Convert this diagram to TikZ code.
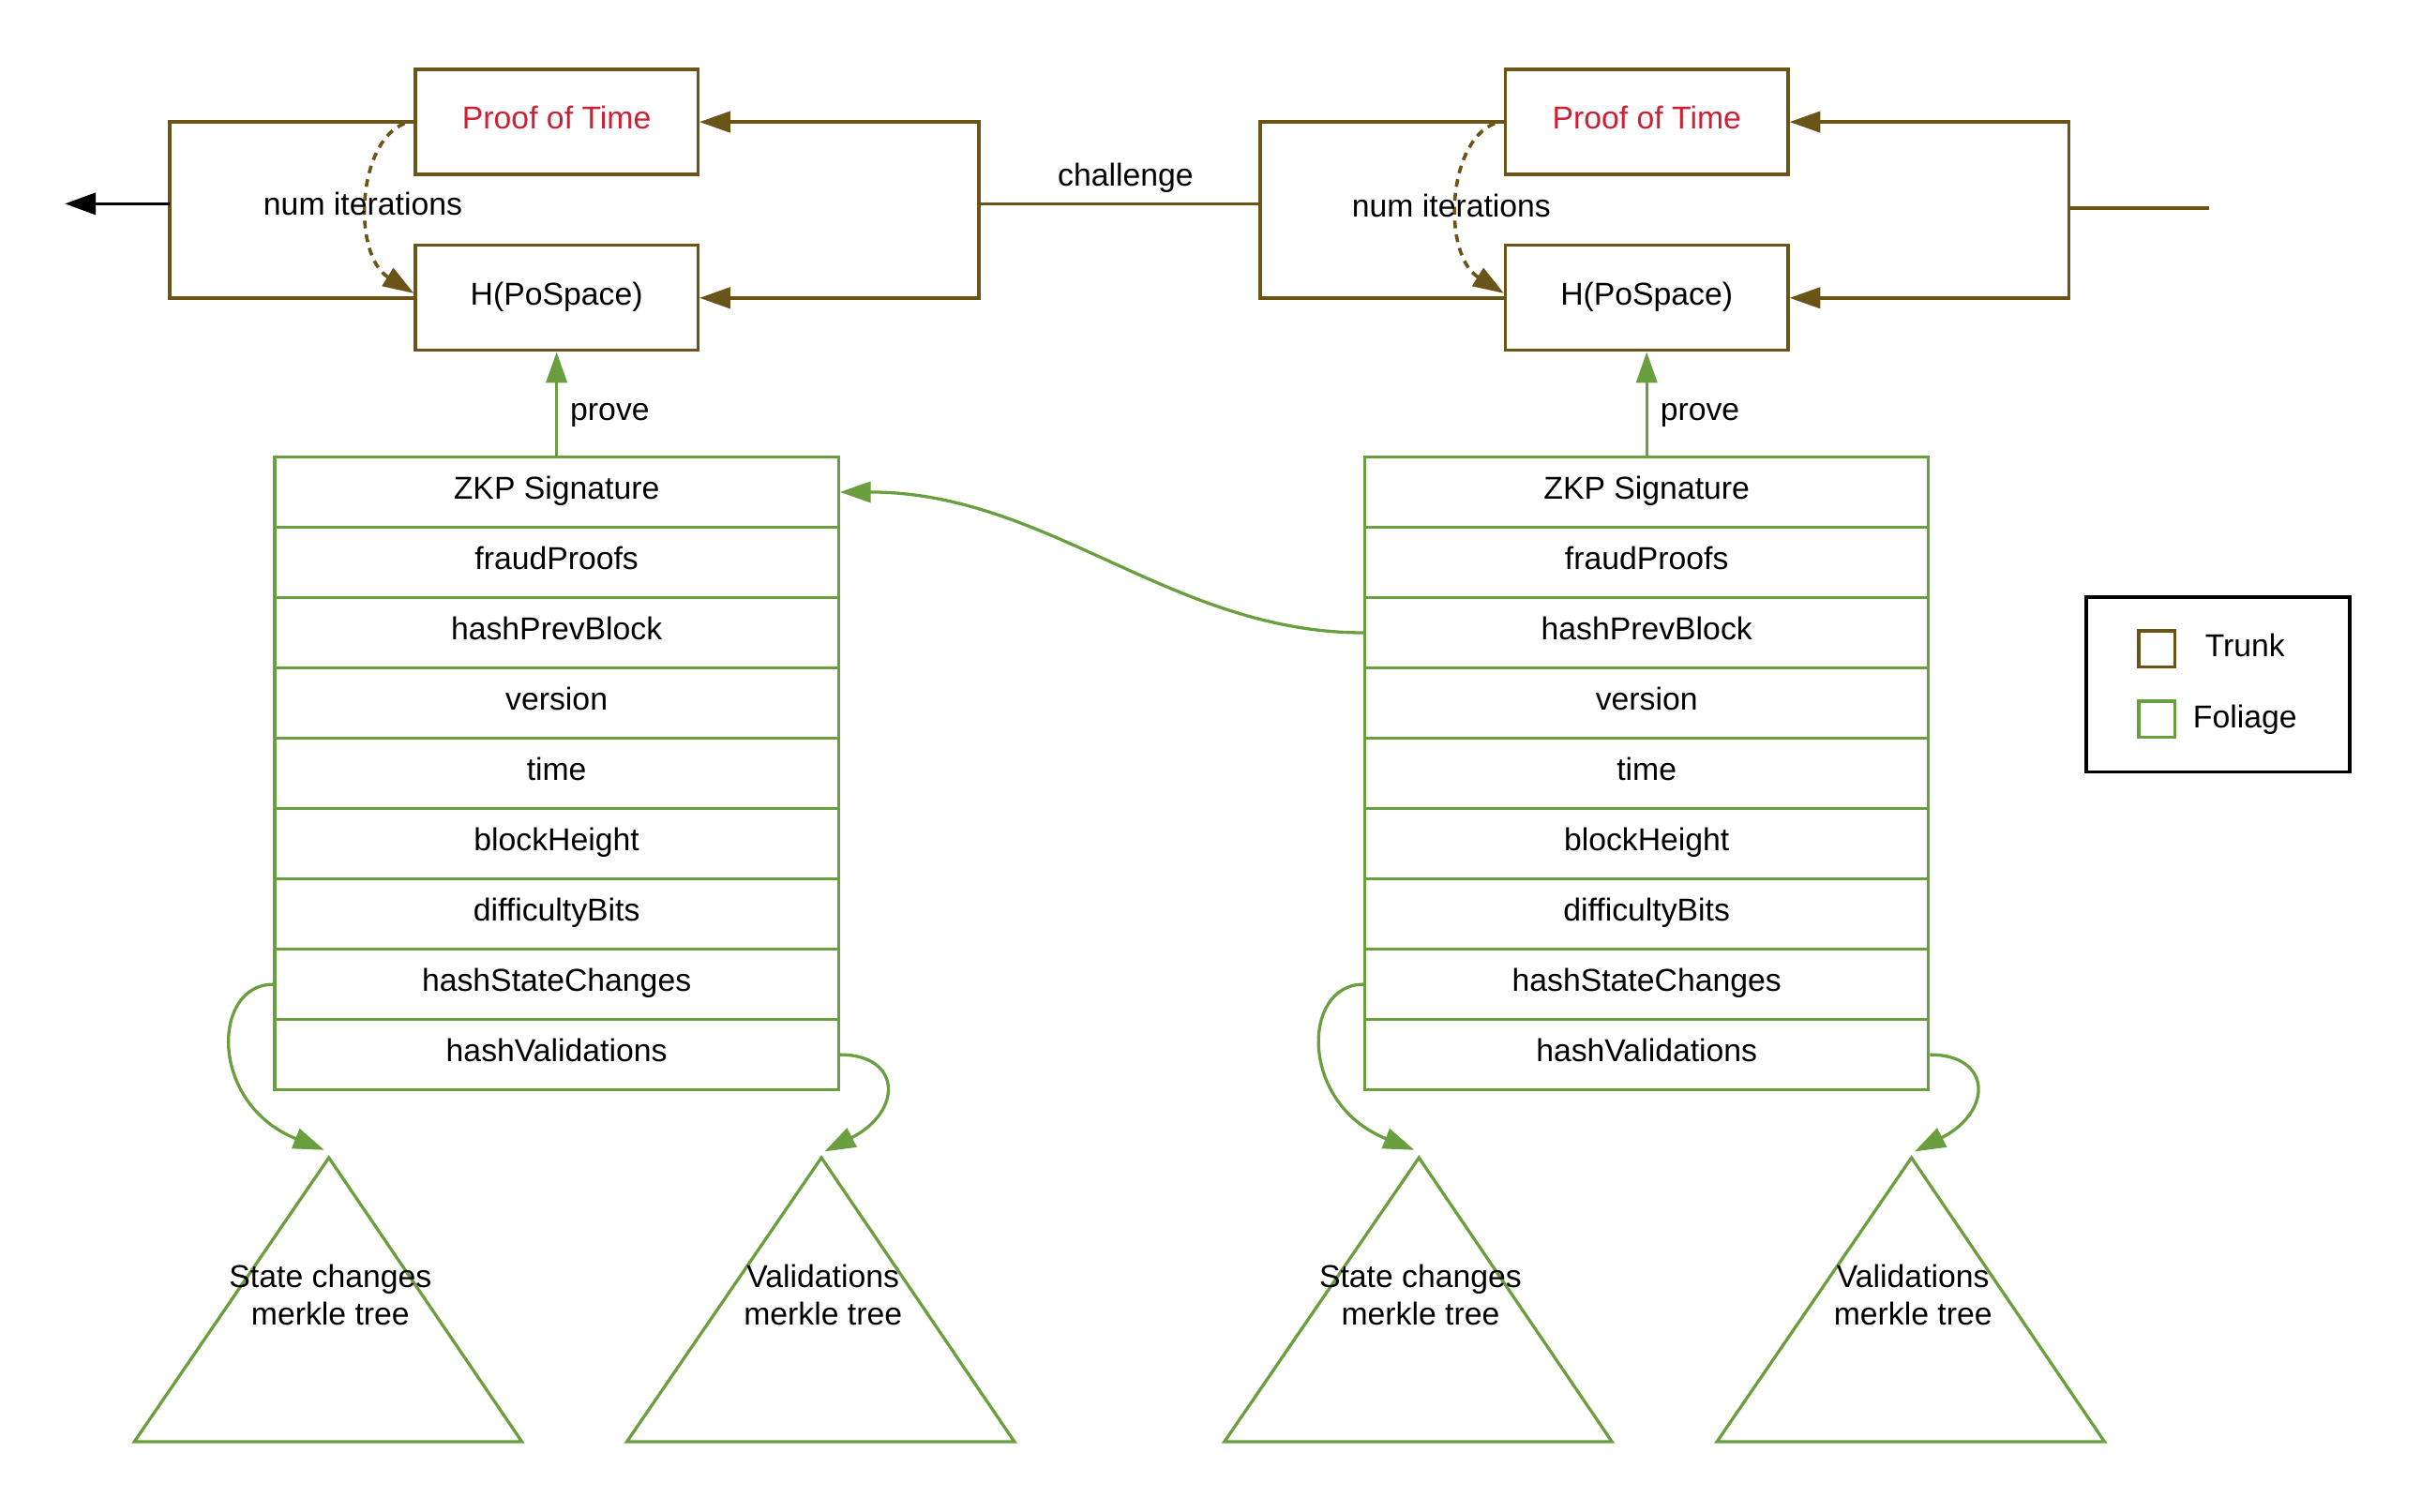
\documentclass[tikz,border=0pt]{standalone}
\usepackage{fontspec}
\setmainfont{Liberation Sans}
\usetikzlibrary{arrows.meta}
\definecolor{trunk}{HTML}{6B5418}
\definecolor{foliage}{HTML}{6A9F3F}
\definecolor{potred}{HTML}{CD2035}
\begin{document}
\begin{tikzpicture}[x=1bp,y=-1bp,
  every node/.style={font=\fontsize{20.5bp}{24.6bp}\selectfont, inner sep=0pt, text height=14.8bp, text depth=0pt},
  tbox/.style={draw=trunk, line width=2bp, minimum width=183bp, minimum height=68bp, text depth=5.5bp},
  rowbox/.style={draw=foliage, line width=2bp, minimum width=365bp, minimum height=45.56bp, text depth=5.5bp},
  tline/.style={draw=trunk, line width=2.2bp},
  tarr/.style={tline, -{Triangle[length=20bp,width=13.5bp]}},
  tdash/.style={tarr, dash pattern=on 5bp off 4bp},
  farr/.style={draw=foliage, line width=2bp, -{Triangle[length=20bp,width=13.5bp]}},
  tri/.style={draw=foliage, line width=2bp},
  lbl/.style={align=center}
]
\useasboundingbox (0,0) rectangle (1568,979.5);

% ---------- trunk, left group ----------
\node[tbox, text=potred] (pot1) at (360.5,79) {Proof of Time};
\node[tbox] (h1) at (360.5,193) {H(PoSpace)};
\coordinate (j1) at (110,132);
\coordinate (out1) at (42,132);
\coordinate (c1) at (634,132);
\draw[tline] (pot1.west) -| (j1) |- (h1.west);
\draw[draw=black, line width=2.2bp, -{Triangle[length=20bp,width=14bp]}] (j1) -- (out1);
\draw[tarr] (c1) |- (pot1.east);
\draw[tarr] (c1) |- (h1.east);
\draw[tdash] ([shift={(-6,1)}]pot1.west) .. controls +(-31,12) and +(-40,-25) .. ([shift={(0,-3)}]h1.west);
\node (ni1) at (235,132) {num iterations};

% ---------- trunk, right group ----------
\node[tbox, text=potred] (pot2) at (1066.5,79) {Proof of Time};
\node[tbox] (h2) at (1066.5,193) {H(PoSpace)};
\coordinate (j2) at (816,132);
\coordinate (c2) at (1340,135);
\coordinate (e2) at (1431,135);
\draw[tline] (pot2.west) -| (j2) |- (h2.west);
\draw[tline] (c1) -- (j2);
\node (chal) at (729,113) {challenge};
\draw[tarr] (c2) |- (pot2.east);
\draw[tarr] (c2) |- (h2.east);
\draw[tline] (c2) -- (e2);
\draw[tdash] ([shift={(-6,1)}]pot2.west) .. controls +(-31,12) and +(-40,-25) .. ([shift={(0,-3)}]h2.west);
\node (ni2) at (940,133) {num iterations};

% ---------- foliage tables ----------
\foreach \t/\x in {1/360.5, 2/1066.5}{
  \foreach \k/\txt in {0/ZKP Signature, 1/fraudProofs, 2/hashPrevBlock, 3/version, 4/time, 5/blockHeight, 6/difficultyBits, 7/hashStateChanges, 8/hashValidations}{
    \node[rowbox] (r\t-\k) at (\x, 296+45.56*\k+22.78) {\txt};
  }
}

% prove arrows
\draw[farr] (r1-0.north) -- (h1.south);
\node (pr1) at (395,265) {prove};
\draw[farr] (r2-0.north) -- (h2.south);
\node (pr2) at (1101,265) {prove};

% prev block link
\draw[farr] (r2-2.west) .. controls +(-124,0) and +(135,0) .. (r1-0.east);

% ---------- merkle trees ----------
\draw[tri] (213,750) coordinate (t1) -- (338,934) -- (87,934) -- cycle;
\draw[tri] (532,750) coordinate (t2) -- (657,934) -- (406,934) -- cycle;
\draw[tri] (919,750) coordinate (t3) -- (1044,934) -- (793,934) -- cycle;
\draw[tri] (1238,750) coordinate (t4) -- (1363,934) -- (1112,934) -- cycle;
\node[lbl] (tl1) at (214,851) {State changes\\merkle tree};
\node[lbl] (tl2) at (533,851) {Validations\\merkle tree};
\node[lbl] (tl3) at (920,851) {State changes\\merkle tree};
\node[lbl] (tl4) at (1239,851) {Validations\\merkle tree};

\coordinate (a1) at (210,745);
\coordinate (a2) at (534,746);
\coordinate (a3) at (916,745);
\coordinate (a4) at (1240,746);
\draw[farr] (r1-7.west) .. controls +(-40,0) and +(-75,-30) .. (a1);
\draw[farr] (r1-8.east) .. controls +(40,0) and +(51,-26) .. (a2);
\draw[farr] (r2-7.west) .. controls +(-40,0) and +(-75,-30) .. (a3);
\draw[farr] (r2-8.east) .. controls +(40,0) and +(51,-26) .. (a4);

% ---------- legend ----------
\node[draw=black, line width=2.2bp, minimum width=171bp, minimum height=113bp] (legend) at (1436.5,443.5) {};
\node[draw=trunk, line width=2bp, minimum width=23.5bp, minimum height=23.5bp] (sq1) at (1397,420.5) {};
\node[draw=foliage, line width=2bp, minimum width=23.5bp, minimum height=23.5bp] (sq2) at (1397,466) {};
\node (lg1) at (1454,418) {Trunk};
\node (lg2) at (1454,464) {Foliage};
\end{tikzpicture}
\end{document}
